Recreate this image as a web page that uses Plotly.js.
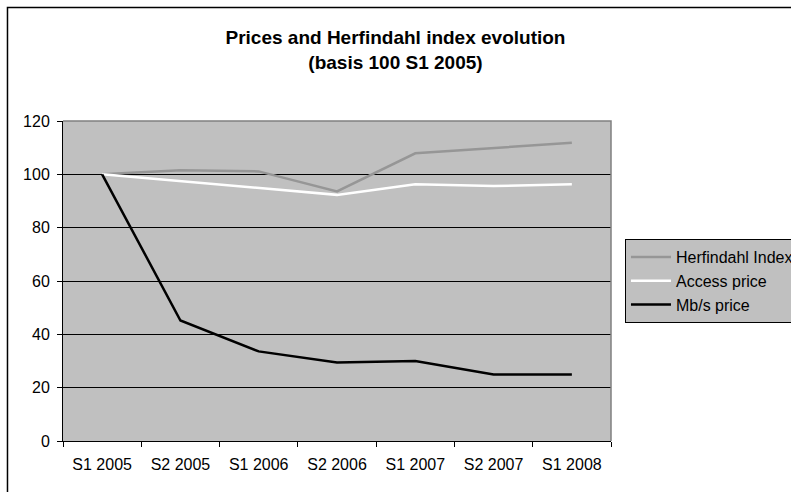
<!DOCTYPE html>
<html>
<head>
<meta charset="utf-8">
<script src="https://cdn.plot.ly/plotly-3.0.1.min.js"></script>
<style>
html,body{margin:0;padding:0;background:#fff;}
#chart{width:791px;height:492px;}
</style>
</head>
<body>
<div id="chart"></div>
<script>
const categories = ["S1 2005","S2 2005","S1 2006","S2 2006","S1 2007","S2 2007","S1 2008"];
const herfindahl = [100, 101.5, 101.1, 93.6, 107.9, 109.8, 111.8];
const accessPrice = [100, 97.5, 94.9, 92.3, 96.3, 95.6, 96.3];
const mbsPrice = [100, 45.2, 33.6, 29.4, 30.0, 24.9, 24.9];
const yTicks = [0, 20, 40, 60, 80, 100, 120];

const font = "Liberation Sans, Arial, sans-serif";

const traces = [
  {x: categories, y: herfindahl, name: "Herfindahl Index", type: "scatter", mode: "lines",
   line: {color: "#969696", width: 2.5}},
  {x: categories, y: accessPrice, name: "Access price", type: "scatter", mode: "lines",
   line: {color: "#ffffff", width: 2.5}},
  {x: categories, y: mbsPrice, name: "Mb/s price", type: "scatter", mode: "lines",
   line: {color: "#000000", width: 2.5}}
];

const layout = {
  width: 791, height: 492,
  margin: {l: 63, r: 180, t: 121, b: 51, pad: 0, autoexpand: false},
  paper_bgcolor: "#ffffff",
  plot_bgcolor: "#c0c0c0",
  font: {family: font, size: 16, color: "#000"},
  title: {
    text: "<b>Prices and Herfindahl index evolution<br>(basis 100 S1 2005)</b>",
    font: {family: font, size: 19, color: "#000"},
    xref: "container", x: 0.5, xanchor: "center",
    yref: "container", y: 0.91, yanchor: "top"
  },
  showlegend: true,
  legend: {
    x: 1.0255, xanchor: "left", y: 0.631, yanchor: "top",
    bgcolor: "#c0c0c0", bordercolor: "#000", borderwidth: 1,
    font: {family: font, size: 16, color: "#000"},
    itemwidth: 40,
    tracegroupgap: 0
  },
  xaxis: {
    type: "category",
    range: [-0.5, 6.5],
    tickson: "boundaries",
    ticks: "outside", ticklen: 5, tickcolor: "#000",
    ticklabelstandoff: 9,
    showline: true, linecolor: "#000", linewidth: 1,
    showgrid: false, zeroline: false,
    tickfont: {family: font, size: 16, color: "#000"},
    fixedrange: true
  },
  yaxis: {
    range: [0, 120],
    tickvals: yTicks,
    ticks: "outside", ticklen: 5, tickcolor: "#000",
    ticklabelstandoff: 4,
    showline: true, linecolor: "#000", linewidth: 1,
    showgrid: true, gridcolor: "#000", gridwidth: 1,
    zeroline: false,
    tickfont: {family: font, size: 16, color: "#000"},
    fixedrange: true
  },
  shapes: [
    {type: "path", xref: "paper", yref: "paper", path: "M 0,1 L 1,1 L 1,0",
     line: {color: "#808080", width: 1.5}, layer: "above"},
    {type: "rect", xref: "paper", yref: "paper", x0: -0.1013, x1: 2, y0: -1, y1: 1.3547,
     line: {color: "#000", width: 1.5}, fillcolor: "rgba(0,0,0,0)"}
  ]
};

Plotly.newPlot("chart", traces, layout, {displayModeBar: false, staticPlot: true});
</script>
</body>
</html>
